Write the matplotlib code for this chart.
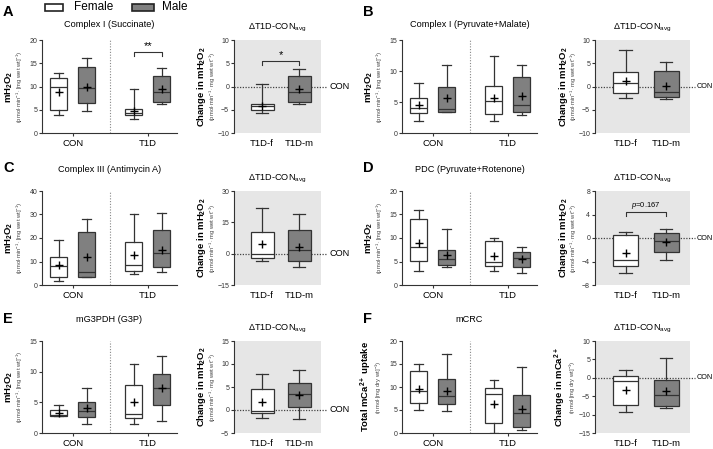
import matplotlib
matplotlib.use("Agg")
import matplotlib.pyplot as plt
from matplotlib.patches import Rectangle

plt.rcParams['font.family'] = ['Liberation Sans', 'DejaVu Sans']
plt.rcParams['mathtext.fontset'] = 'custom'
plt.rcParams['mathtext.rm'] = 'Liberation Sans'
plt.rcParams['mathtext.it'] = 'Liberation Sans:italic'
plt.rcParams['mathtext.bf'] = 'Liberation Sans:bold'

# box stats per row: whislo, q1, median, q3, whishi, mean
# main rows: CON-f, CON-m, T1D-f, T1D-m ; delta rows: T1D-f, T1D-m
succ_main = [[3.9, 4.9, 9.8, 11.8, 12.8, 8.9],
             [4.8, 6.5, 9.6, 14.3, 16.1, 10.0],
             [3.1, 3.8, 4.4, 5.2, 9.5, 4.8],
             [6.3, 6.7, 8.8, 12.3, 13.9, 9.5]]
succ_delta = [[-5.8, -5.1, -4.3, -3.8, 0.6, -4.1],
              [-3.8, -3.3, -1.2, 2.2, 3.8, -0.5]]
pm_main = [[2.0, 3.3, 4.1, 5.6, 8.1, 4.5],
           [3.4, 3.4, 3.9, 7.4, 10.9, 5.7],
           [2.0, 3.0, 5.2, 7.6, 12.4, 5.6],
           [2.9, 3.4, 4.5, 9.0, 10.9, 5.9]]
pm_delta = [[-2.5, -1.5, 0.8, 3.1, 7.9, 1.1],
            [-2.7, -2.2, -1.2, 3.3, 5.3, 0.1]]
aa_main = [[1.6, 3.2, 8.1, 11.8, 19.2, 8.4],
           [3.2, 3.5, 5.5, 22.7, 28.2, 12.1],
           [4.7, 6.0, 8.3, 18.2, 30.3, 12.9],
           [5.4, 7.6, 13.5, 23.4, 30.5, 15.1]]
aa_delta = [[-3.3, -2.0, 0.0, 10.3, 21.9, 4.7],
            [-6.2, -3.6, 1.8, 11.4, 18.9, 3.3]]
pdc_main = [[2.9, 5.1, 8.0, 14.1, 15.9, 8.9],
            [3.8, 4.2, 5.5, 7.5, 12.0, 6.3],
            [2.9, 4.1, 5.0, 9.3, 10.0, 6.2],
            [2.6, 3.9, 5.8, 7.0, 8.0, 5.6]]
pdc_delta = [[-6.0, -4.8, -3.8, 0.5, 1.1, -2.6],
             [-3.7, -2.4, -0.5, 0.8, 1.6, -0.7]]
g3p_main = [[2.7, 2.8, 2.9, 3.7, 4.6, 3.3],
            [1.5, 2.6, 3.6, 5.0, 7.3, 4.0],
            [1.5, 2.5, 3.1, 7.9, 11.2, 5.0],
            [2.0, 4.5, 7.4, 9.7, 12.6, 7.3]]
g3p_delta = [[-1.7, -0.7, -0.3, 4.6, 7.9, 1.8],
             [-1.9, 0.6, 3.4, 5.9, 8.7, 3.3]]
crc_main = [[4.9, 6.5, 9.1, 13.4, 14.9, 9.6],
            [4.7, 6.2, 8.0, 11.8, 17.1, 9.1],
            [0.1, 2.1, 8.5, 9.8, 11.5, 6.4],
            [0.6, 1.2, 4.3, 8.2, 14.4, 5.3]]
crc_delta = [[-9.3, -7.4, -1.0, 0.4, 2.0, -3.2],
             [-8.3, -7.6, -4.7, -0.6, 5.4, -3.7]]

groups = ['CON', 'T1D']
delta_groups = ['T1D-f', 'T1D-m']
titles = ['Complex I (Succinate)', 'Complex I (Pyruvate+Malate)', 'Complex III (Antimycin A)',
          'PDC (Pyruvate+Rotenone)', 'mG3PDH (G3P)', 'mCRC']
letters = ['A', 'B', 'C', 'D', 'E', 'F']

W, H = 713, 449
fig = plt.figure(figsize=(W / 100, H / 100), dpi=100)

DARK = '#333333'
GRAY = '#808080'
BG = '#e6e6e6'


def add_ax(x0, y0, x1, y1):
    return fig.add_axes([x0 / W, 1 - y1 / H, (x1 - x0) / W, (y1 - y0) / H])


def make_stats(rows):
    return [dict(whislo=r[0], q1=r[1], med=r[2], q3=r[3], whishi=r[4], mean=r[5]) for r in rows]


def boxes(ax, rows, pos, width, colors):
    bp = ax.bxp(make_stats(rows), positions=pos, widths=width, patch_artist=True,
                showmeans=True, showfliers=False,
                boxprops=dict(edgecolor=DARK, linewidth=0.9),
                medianprops=dict(color=DARK, linewidth=0.9),
                whiskerprops=dict(color=DARK, linewidth=0.9),
                capprops=dict(color=DARK, linewidth=0.9),
                meanprops=dict(marker='+', markeredgecolor='black', markersize=5.5, markeredgewidth=1.0))
    for patch, c in zip(bp['boxes'], colors):
        patch.set_facecolor(c)


def style(ax):
    for s in ['top', 'right']:
        ax.spines[s].set_visible(False)
    for s in ['left', 'bottom']:
        ax.spines[s].set_linewidth(0.8)
        ax.spines[s].set_color(DARK)
    ax.tick_params(axis='y', labelsize=5, length=2.5, width=0.8, color=DARK, labelcolor=DARK, pad=1)
    ax.tick_params(axis='x', labelsize=6.8, length=2.5, width=0.8, color=DARK, pad=2)


def ylabels(ax, top, bottom, off, gap=11):
    ax.annotate(top, (0, 0.5), xycoords='axes fraction', xytext=(-off, 0), textcoords='offset pixels',
                rotation=90, ha='center', va='center', fontsize=6.8, fontweight='bold')
    ax.annotate(bottom, (0, 0.5), xycoords='axes fraction', xytext=(-off + gap, 0), textcoords='offset pixels',
                rotation=90, ha='center', va='center', fontsize=4.2, color='#444444')


def bracket(ax, x0, x1, y, drop, label, fs=8):
    ax.plot([x0, x0, x1, x1], [y - drop, y, y, y - drop], color=DARK, lw=0.8)
    ax.text((x0 + x1) / 2, y + drop * 0.3, label, ha='center', va='bottom', fontsize=fs)


h2o2 = r'mH$_\mathbf{2}$O$_\mathbf{2}$'
h2o2_units = r'(pmol$\cdot$min$^{-1}\cdot$[mg wet wt]$^{-1}$)'
ch2o2 = r'Change in mH$_\mathbf{2}$O$_\mathbf{2}$'
ch2o2_units = r'(pmol$\cdot$min$^{-1}\cdot$mg wet wt$^{-1}$)'

panels = [
    (succ_main, succ_delta, (0, 20), [0, 5, 10, 15, 20], (-10, 10), [-10, -5, 0, 5, 10],
     h2o2, h2o2_units, ch2o2, ch2o2_units),
    (pm_main, pm_delta, (0, 15), [0, 5, 10, 15], (-10, 10), [-10, -5, 0, 5, 10],
     h2o2, h2o2_units, ch2o2, ch2o2_units),
    (aa_main, aa_delta, (0, 40), [0, 10, 20, 30, 40], (-15, 30), [-15, 0, 15, 30],
     h2o2, h2o2_units, ch2o2, ch2o2_units),
    (pdc_main, pdc_delta, (0, 20), [0, 5, 10, 15, 20], (-8, 8), [-8, -4, 0, 4, 8],
     h2o2, h2o2_units, ch2o2, ch2o2_units),
    (g3p_main, g3p_delta, (0, 15), [0, 5, 10, 15], (-5, 15), [-5, 0, 5, 10, 15],
     h2o2, h2o2_units, ch2o2, ch2o2_units),
    (crc_main, crc_delta, (0, 20), [0, 5, 10, 15, 20], (-15, 10), [-15, -10, -5, 0, 5, 10],
     r'Total mCa$^{\mathbf{2+}}$ uptake', r'(nmol$\cdot$[mg dry wt]$^{-1}$)',
     r'Change in mCa$^{\mathbf{2+}}$', r'(nmol$\cdot$[mg dry wt]$^{-1}$)'),
]

row_top = [40, 191, 341]
row_bot = [133, 285, 433]
main_x = [(42, 177), (402, 537)]
delta_x = [(234, 321), (595, 690)]
title_off = [16, 22, 22]
letter_y = [12, 168, 319]
con_ext = [1.07, 1.05]
con_fs = [6.6, 5.2]

main_pos = [0, 1, 2.7, 3.7]
main_axes = []
delta_axes = []
for i, (mrows, drows, ylim, yt, dylim, dyt, yl1, yl2, dl1, dl2) in enumerate(panels):
    r, c = i // 2, i % 2
    lab_off = 36 if i == 5 else 33
    ax = add_ax(main_x[c][0], row_top[r], main_x[c][1], row_bot[r])
    boxes(ax, mrows, main_pos, 0.62, ['white', GRAY, 'white', GRAY])
    ax.set_xlim(-0.6, 4.25)
    ax.set_ylim(*ylim)
    ax.set_yticks(yt)
    ax.set_xticks([0.5, 3.2])
    ax.set_xticklabels(groups)
    ax.axvline(1.85, ls=(0, (1, 1.5)), color='#888888', lw=0.8)
    style(ax)
    ylabels(ax, yl1, yl2, lab_off, gap=13 if i == 5 else 11)
    ax.annotate(titles[i], (0.5, 1), xycoords='axes fraction', xytext=(0, title_off[r]),
                textcoords='offset pixels', ha='center', va='center', fontsize=6.6)
    main_axes.append(ax)

    dx = add_ax(delta_x[c][0], row_top[r], delta_x[c][1], row_bot[r])
    dx.set_facecolor(BG)
    boxes(dx, drows, [0, 1], 0.62, ['white', GRAY])
    dx.set_xlim(-0.76, 1.59)
    dx.set_ylim(*dylim)
    dx.set_yticks(dyt)
    dx.set_xticks([0, 1])
    dx.set_xticklabels(delta_groups)
    style(dx)
    dx.spines['bottom'].set_visible(False)
    dx.tick_params(axis='x', length=0, pad=4)
    dx.plot([0, con_ext[c]], [0, 0], transform=dx.get_yaxis_transform(), clip_on=False,
            ls=(0, (1, 1.2)), color='#444444', lw=0.9, zorder=1)
    dx.annotate('CON', (con_ext[c], 0), xycoords=dx.get_yaxis_transform(), xytext=(2, 0),
                textcoords='offset pixels', ha='left', va='center', fontsize=con_fs[c])
    ylabels(dx, dl1, dl2, lab_off - 1 if i != 5 else 35, gap=13 if i == 5 else 11)
    dx.annotate(r'$\Delta$T1D-CON$_{\mathrm{avg}}$', (0.5, 1), xycoords='axes fraction',
                xytext=(0, 12), textcoords='offset pixels', ha='center', va='center', fontsize=6.6)
    delta_axes.append(dx)

    fig.text((3 + 360 * c) / W, 1 - letter_y[r] / H, letters[i], fontsize=10.5,
             fontweight='bold', ha='left', va='center')

# significance marks
bracket(main_axes[0], 2.7, 3.7, 17.4, 0.8, '**')
bracket(delta_axes[0], 0, 1, 5.5, 0.9, '*')
bracket(delta_axes[3], 0, 1, 4.4, 0.6, r'$p$=0.167', fs=5.5)

# legend
fig.patches.append(Rectangle((45 / W, 1 - 10.5 / H), 18 / W, 7 / H, transform=fig.transFigure,
                             facecolor='white', edgecolor='#222222', lw=1.2))
fig.text(74 / W, 1 - 7 / H, 'Female', fontsize=8.5, ha='left', va='center')
fig.patches.append(Rectangle((132 / W, 1 - 10.5 / H), 22 / W, 7 / H, transform=fig.transFigure,
                             facecolor=GRAY, edgecolor='#222222', lw=1.2))
fig.text(162 / W, 1 - 7 / H, 'Male', fontsize=8.5, ha='left', va='center')

fig.savefig('out.png', dpi=100)
